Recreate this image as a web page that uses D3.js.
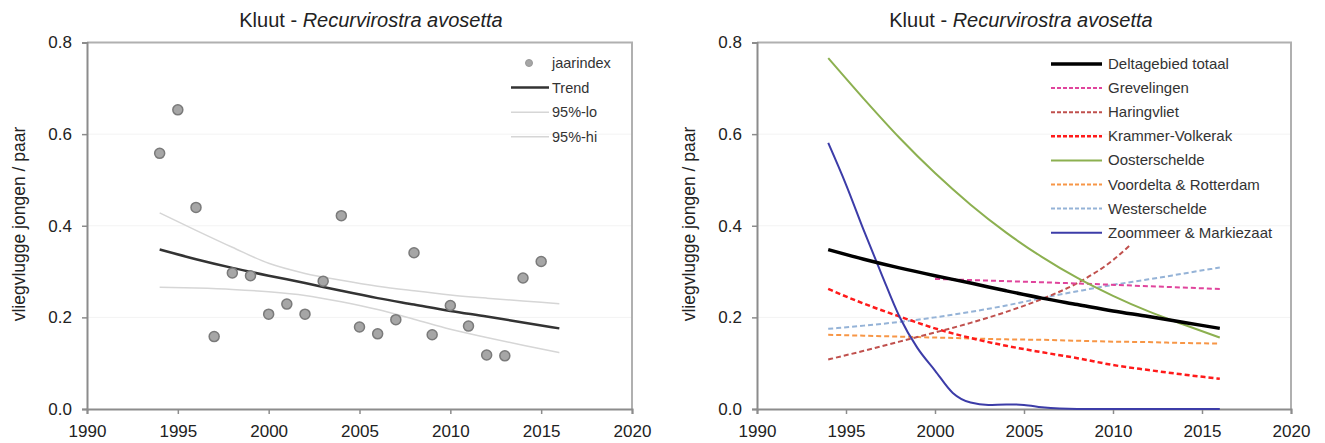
<!DOCTYPE html>
<html>
<head>
<meta charset="utf-8">
<script src="https://cdn.jsdelivr.net/npm/d3@7"></script>
<style>
  body { margin: 0; background: #fff; }
  svg { font-family: "Liberation Sans", Arial, sans-serif; }
</style>
</head>
<body>
<div id="chart"></div>
<script>
const width = 1325;
const height = 443;

// left panel: yearly index + trend with 95% band
const years = [1994, 1995, 1996, 1997, 1998, 1999, 2000, 2001, 2002, 2003, 2004,
  2005, 2006, 2007, 2008, 2009, 2010, 2011, 2012, 2013, 2014, 2015];
const jaarindex = [0.558, 0.653, 0.44, 0.158, 0.297, 0.291, 0.207, 0.229, 0.207, 0.279, 0.422,
  0.179, 0.164, 0.195, 0.341, 0.162, 0.226, 0.181, 0.118, 0.116, 0.286, 0.322];

const trendYears = [1994, 1996, 1998, 2000, 2002, 2004, 2006, 2008, 2010, 2012, 2014, 2016];
const trend = [0.348, 0.327, 0.308, 0.291, 0.275, 0.258, 0.242, 0.228, 0.214, 0.202, 0.189, 0.176];
const lo95 = [0.266, 0.264, 0.261, 0.256, 0.248, 0.234, 0.217, 0.196, 0.174, 0.156, 0.139, 0.123];
const hi95 = [0.428, 0.39, 0.353, 0.318, 0.296, 0.281, 0.268, 0.258, 0.249, 0.242, 0.236, 0.23];

// right panel: regional trends
const zoomYears = [1994, 1995, 1996, 1997, 1998, 1999, 2000, 2001, 2002, 2003, 2004, 2005,
  2006, 2007, 2008, 2010, 2012, 2014, 2016];
const zoommeer = [0.581, 0.49, 0.39, 0.294, 0.202, 0.134, 0.084, 0.035, 0.014, 0.009, 0.01, 0.009,
  0.004, 0.001, 0, 0, 0, 0, 0];
const grevYears = [2000, 2004, 2008, 2012, 2016];
const grevelingen = [0.284, 0.279, 0.274, 0.268, 0.262];
const haringYears = [1994, 1996, 1998, 2000, 2002, 2004, 2006, 2008, 2010, 2011];
const haringvliet = [0.108, 0.127, 0.147, 0.167, 0.188, 0.212, 0.24, 0.275, 0.325, 0.359];
const krammer = [0.262, 0.23, 0.202, 0.176, 0.155, 0.138, 0.124, 0.111, 0.096, 0.085, 0.075, 0.066];
const oosterschelde = [0.766, 0.677, 0.592, 0.515, 0.446, 0.385, 0.332, 0.286, 0.247, 0.213, 0.184, 0.156];
const voordelta = [0.162, 0.16, 0.158, 0.156, 0.154, 0.152, 0.151, 0.149, 0.147, 0.146, 0.144, 0.143];
const westerschelde = [0.175, 0.182, 0.19, 0.2, 0.212, 0.226, 0.242, 0.257, 0.271, 0.283, 0.296, 0.309];

const xTicks = [1990, 1995, 2000, 2005, 2010, 2015, 2020];
const yTicks = [0, 0.2, 0.4, 0.6, 0.8];

const svg = d3.select("#chart").append("svg")
  .attr("width", width)
  .attr("height", height);

function makePanel(x0, x1, titleX) {
  const x = d3.scaleLinear().domain([1990, 2020]).range([x0, x1]);
  const y = d3.scaleLinear().domain([0, 0.8]).range([409, 42.5]);
  const g = svg.append("g");

  // faint gridlines
  g.selectAll(".grid").data(yTicks.slice(1, 4)).enter().append("line")
    .attr("x1", x0).attr("x2", x1)
    .attr("y1", (d) => y(d)).attr("y2", (d) => y(d))
    .attr("stroke", "#f3f3f3");

  // top + right frame
  g.append("path")
    .attr("d", `M${x0},${y(0.8)}H${x1}V${y(0)}`)
    .attr("fill", "none").attr("stroke", "#b0b0b0").attr("stroke-width", 2);

  const xa = g.append("g").attr("transform", `translate(0,${y(0)})`)
    .call(d3.axisBottom(x).tickValues(xTicks).tickFormat(d3.format("d")).tickSize(5).tickPadding(11));
  const ya = g.append("g").attr("transform", `translate(${x0},0)`)
    .call(d3.axisLeft(y).tickValues(yTicks).tickFormat(d3.format(".1f")).tickSize(5).tickPadding(10));
  [xa, ya].forEach((a) => {
    a.select(".domain").attr("stroke", "#8c8c8c").attr("stroke-width", 2);
    a.selectAll(".tick line").attr("stroke", "#8c8c8c").attr("stroke-width", 1.5);
    a.selectAll("text").attr("fill", "#222").style("font-size", "17px")
      .style("font-family", "'Liberation Sans', Arial, sans-serif");
  });

  // title
  const t = g.append("text")
    .attr("x", titleX).attr("y", 27)
    .attr("text-anchor", "middle")
    .style("font-size", "20px").attr("fill", "#222");
  t.append("tspan").text("Kluut  - ");
  t.append("tspan").style("font-style", "italic").text("Recurvirostra avosetta");

  // y label
  g.append("text")
    .attr("transform", `translate(${x0 - 62},224) rotate(-90)`)
    .attr("text-anchor", "middle")
    .style("font-size", "17.5px").attr("fill", "#222")
    .text("vliegvlugge jongen / paar");

  return { x, y, g };
}

// ---------- left panel ----------
const L = makePanel(87, 632, 371);
const lineL = (xs) => d3.line().x((d, i) => L.x(xs[i])).y((d) => L.y(d)).curve(d3.curveMonotoneX);

L.g.append("path").attr("d", lineL(trendYears)(lo95))
  .attr("fill", "none").attr("stroke", "#d6d6d6").attr("stroke-width", 1.5);
L.g.append("path").attr("d", lineL(trendYears)(hi95))
  .attr("fill", "none").attr("stroke", "#d6d6d6").attr("stroke-width", 1.5);
L.g.append("path").attr("d", lineL(trendYears)(trend))
  .attr("fill", "none").attr("stroke", "#333").attr("stroke-width", 2.5);

L.g.selectAll("circle.pt").data(jaarindex).enter().append("circle")
  .attr("cx", (d, i) => L.x(years[i]))
  .attr("cy", (d) => L.y(d))
  .attr("r", 5)
  .attr("fill", "#a6a6a6")
  .attr("stroke", "#7a7a7a")
  .attr("stroke-width", 1.5);

// left legend
const legL = [
  { name: "jaarindex", type: "dot" },
  { name: "Trend", color: "#333", w: 2.5 },
  { name: "95%-lo", color: "#d6d6d6", w: 1.5 },
  { name: "95%-hi", color: "#d6d6d6", w: 1.5 },
];
legL.forEach((d, i) => {
  const yy = 63 + i * 24.6;
  if (d.type === "dot") {
    L.g.append("circle").attr("cx", 529).attr("cy", yy).attr("r", 3.5)
      .attr("fill", "#a6a6a6").attr("stroke", "#999");
  } else {
    L.g.append("line").attr("x1", 511).attr("x2", 549).attr("y1", yy).attr("y2", yy)
      .attr("stroke", d.color).attr("stroke-width", d.w);
  }
  L.g.append("text").attr("x", 552).attr("y", yy + 5)
    .style("font-size", "14.5px").attr("fill", "#333").text(d.name);
});

// ---------- right panel ----------
const R = makePanel(757, 1291, 1021);
const lineR = (xs) => d3.line().x((d, i) => R.x(xs[i])).y((d) => R.y(d)).curve(d3.curveMonotoneX);

const series = [
  { name: "Deltagebied totaal", xs: trendYears, v: trend, color: "#000", w: 3.5 },
  { name: "Grevelingen", xs: grevYears, v: grevelingen, color: "#e0449c", w: 2, dash: "5,3" },
  { name: "Haringvliet", xs: haringYears, v: haringvliet, color: "#c0504d", w: 2, dash: "5,3" },
  { name: "Krammer-Volkerak", xs: trendYears, v: krammer, color: "#ff1a1a", w: 2.5, dash: "5,3" },
  { name: "Oosterschelde", xs: trendYears, v: oosterschelde, color: "#8cb050", w: 2 },
  { name: "Voordelta & Rotterdam", xs: trendYears, v: voordelta, color: "#f79646", w: 2, dash: "5,3" },
  { name: "Westerschelde", xs: trendYears, v: westerschelde, color: "#95b3d7", w: 2, dash: "5,3" },
  { name: "Zoommeer & Markiezaat", xs: zoomYears, v: zoommeer, color: "#3c3ca8", w: 2 },
];

const drawOrder = [6, 5, 3, 2, 1, 4, 7, 0];
drawOrder.forEach((k) => {
  const s = series[k];
  R.g.append("path").attr("d", lineR(s.xs)(s.v))
    .attr("fill", "none").attr("stroke", s.color).attr("stroke-width", s.w)
    .attr("stroke-dasharray", s.dash || null);
});

series.forEach((s, i) => {
  const yy = 64 + i * 24.1;
  R.g.append("line").attr("x1", 1051).attr("x2", 1102).attr("y1", yy).attr("y2", yy)
    .attr("stroke", s.color).attr("stroke-width", s.w)
    .attr("stroke-dasharray", s.dash ? "4,2" : null);
  R.g.append("text").attr("x", 1108).attr("y", yy + 5)
    .style("font-size", "15px").attr("fill", "#333").text(s.name);
});
</script>
</body>
</html>
